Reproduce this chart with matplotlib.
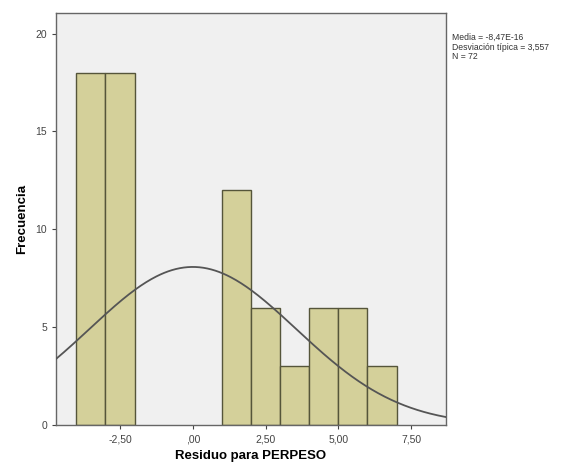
import matplotlib
matplotlib.use("Agg")
import matplotlib.pyplot as plt
import numpy as np

# histogram of residuals (bin width 1)
bin_left = [-4, -3, 1, 2, 3, 4, 5, 6]
counts = [18, 18, 12, 6, 3, 6, 6, 3]
bin_width = 1.0

media = -8.47e-16
desv = 3.557
n = 72

xticks = [-2.5, 0, 2.5, 5, 7.5]
xtick_labels = ["-2,50", ",00", "2,50", "5,00", "7,50"]
yticks = [0, 5, 10, 15, 20]

plt.rcParams['font.family'] = ['Liberation Sans', 'DejaVu Sans']

fig = plt.figure(figsize=(5.67, 4.71), dpi=100)
ax = fig.add_axes([56/567, 1 - 425/471, 390/567, 412/471])
ax.set_facecolor("#f0f0f0")

ax.bar(bin_left, counts, width=bin_width, align="edge",
       color="#d4d09a", edgecolor="#55553a", linewidth=1.0, zorder=2)

# normal curve
xs = np.linspace(-4.7, 8.7, 300)
ys = n * bin_width / (desv * np.sqrt(2 * np.pi)) * np.exp(-0.5 * ((xs - media) / desv) ** 2)
ax.plot(xs, ys, color="#555555", linewidth=1.3, zorder=3)

ax.set_xlim(-4.7, 8.7)
ax.set_ylim(0, 21.05)
ax.set_xticks(xticks)
ax.set_xticklabels(xtick_labels)
ax.set_yticks(yticks)
ax.tick_params(labelsize=7.5, colors="#444444", length=3, width=0.8)
for s in ax.spines.values():
    s.set_color("#666666")
    s.set_linewidth(1.0)

ax.set_xlabel("Residuo para PERPESO", fontsize=9.5, fontweight="bold", labelpad=4)
ax.set_ylabel("Frecuencia", fontsize=9.5, fontweight="bold", labelpad=5)

fig.text(452/567, 1 - 33/471,
         "Media = -8,47E-16\nDesviación típica = 3,557\nN = 72",
         fontsize=6.2, va="top", ha="left", color="#333333", linespacing=1.1)

fig.savefig("out.png", dpi=100)
